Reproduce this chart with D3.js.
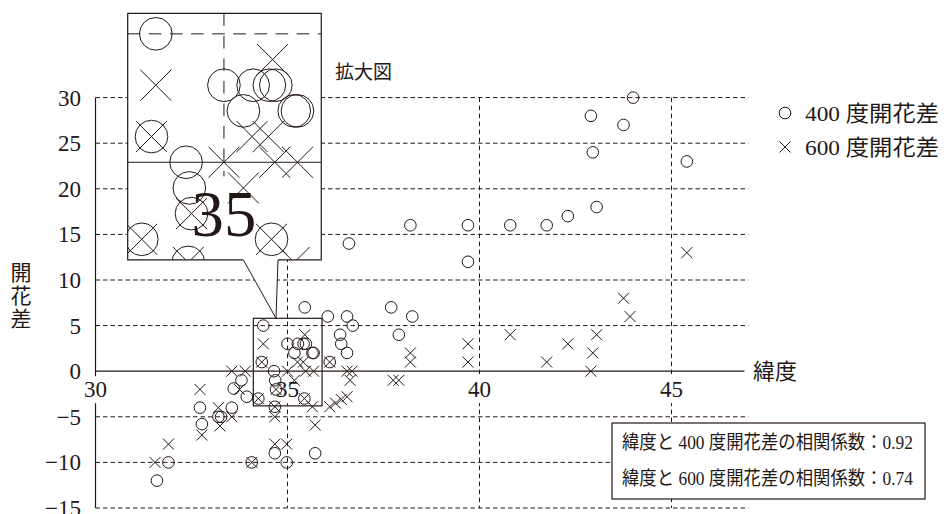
<!DOCTYPE html>
<html>
<head>
<meta charset="utf-8">
<script src="https://cdn.jsdelivr.net/npm/d3@7"></script>
<style>
  body { margin: 0; background: #fff; }
  text { font-family: "Liberation Serif", "Noto Sans CJK JP", serif; fill: #231815; }
</style>
</head>
<body>
<div id="graph"></div>
<script>
// 400 degree-day bloom difference (circles): latitude, difference
let lat400 = [44.0, 42.9, 43.75, 42.95, 45.4, 43.05, 42.3, 41.75, 40.8, 39.7, 38.2, 39.7, 36.6,
  37.7, 38.25, 37.9, 35.45, 36.05, 36.55, 36.7, 36.37, 36.4, 36.55, 36.1, 34.37, 34.33, 34.65,
  34.68, 34.7, 34.24, 35.44, 34.67, 35.0, 35.27, 35.42, 35.48, 35.18, 35.65, 35.68, 33.8, 33.6,
  33.94, 32.72, 32.77, 33.2, 33.27, 33.55, 31.9, 31.6, 34.07, 34.98, 34.67, 35.72];
let diff400 = [30, 28, 27, 24, 23, 18, 17, 16, 16, 16, 16, 12, 14,
  7, 6, 4, 7, 6, 6, 5, 4, 3, 2, 1, 5, 1, 0,
  -1, -2, -3, -3, -3.9, 3, 3, 3, 3, 2, 2, 2, -1, -1.9,
  -2.8, -4, -5.8, -5, -5, -4, -10, -12, -10, -10, -9, -9];

// 600 degree-day bloom difference (crosses)
let lat600 = [45.4, 43.75, 43.92, 40.8, 39.7, 39.7, 38.2, 38.2, 41.75, 42.3, 42.95, 43.05, 42.9,
  37.75, 37.9, 36.55, 36.68, 36.63, 36.1, 36.25, 36.4, 36.55, 36.1, 35.45, 35.26, 35.41, 35.0,
  35.47, 35.68, 35.18, 34.37, 34.33, 34.7, 34.24, 35.44, 34.67, 35.65, 34.67, 35.72, 34.67, 34.98,
  34.07, 33.55, 33.9, 33.75, 32.72, 33.2, 33.24, 33.55, 32.77, 31.9, 31.55];
let diff600 = [13, 8, 6, 4, 3, 1, 2, 1, 1, 3, 2, 4, 0,
  -1, -1, 0, 0, -1, -3.9, -3.5, -3.1, -2.8, 1, 4, 1, 1, 0,
  0, 0, -1, 3, 1, -2, -3, -3, -3.9, -3.9, -5, -5.9, -8, -8,
  -10, 0, 0, -2, -2, -4, -6, -5, -7, -8, -10];

let xTicks = [30, 35, 40, 45];
let yTicks = [30, 25, 20, 15, 10, 5, 0, -5, -10, -15];
let legendLabels = ["400 度開花差", "600 度開花差"];
let corrLabels = ["緯度と 400 度開花差の相関係数：0.92", "緯度と 600 度開花差の相関係数：0.74"];

let ink = "#231815";
let width = 944, height = 514;

let svg = d3.select("#graph").append("svg")
  .attr("width", width).attr("height", height)
  .style("display", "block");

// scales for main plot
let x = d3.scaleLinear().domain([30, 47]).range([95.5, 748.3]);
let y = d3.scaleLinear().domain([-15, 30]).range([508, 97.6]);
let labelDy = 18; // x tick labels sit just under the zero line

// dashed grid
svg.append("g").selectAll("line").data(yTicks.filter(d => d !== 0)).join("line")
  .attr("x1", x(30)).attr("x2", x(47))
  .attr("y1", d => y(d)).attr("y2", d => y(d))
  .attr("stroke", ink).attr("stroke-width", 1).attr("stroke-dasharray", "4.5,3");
svg.append("g").selectAll("line").data(xTicks.filter(d => d !== 30)).join("line")
  .attr("x1", d => x(d)).attr("x2", d => x(d))
  .attr("y1", y(30)).attr("y2", y(-15))
  .attr("stroke", ink).attr("stroke-width", 1).attr("stroke-dasharray", "4.5,3.5");

// axes
svg.append("line").attr("x1", x(30)).attr("x2", x(46.9)).attr("y1", y(0)).attr("y2", y(0))
  .attr("stroke", ink).attr("stroke-width", 1.2);
svg.append("line").attr("x1", x(30)).attr("x2", x(30)).attr("y1", y(30)).attr("y2", y(-15))
  .attr("stroke", ink).attr("stroke-width", 1.2);

// x tick labels with white backing
function xLabels(g, sx, sy, k, ticks) {
  let lab = g.append("g").selectAll("g").data(ticks).join("g")
    .attr("transform", d => `translate(${sx(d)},${sy(0) + labelDy * k})`);
  lab.append("rect").attr("x", -14 * k).attr("y", -13 * k).attr("width", 28 * k).attr("height", 27 * k)
    .attr("fill", "#fff");
  lab.append("text").attr("text-anchor", "middle").attr("dy", "0.35em")
    .style("font-size", 23 * k + "px").text(d => d);
}
xLabels(svg, x, y, 1, xTicks);

// y tick labels
svg.append("g").selectAll("text").data(yTicks).join("text")
  .attr("x", 81).attr("y", d => y(d)).attr("dy", "0.35em")
  .attr("text-anchor", "end").style("font-size", "23px")
  .text(d => (d < 0 ? "\u2212" : "") + Math.abs(d));

// markers
function drawMarks(g, sx, sy, k) {
  let r = 5.8 * k, c = 5.5 * k;
  g.append("g").selectAll("circle").data(d3.range(lat400.length)).join("circle")
    .attr("cx", i => sx(lat400[i])).attr("cy", i => sy(diff400[i])).attr("r", r)
    .attr("fill", "none").attr("stroke", ink).attr("stroke-width", 1);
  g.append("g").selectAll("path").data(d3.range(lat600.length)).join("path")
    .attr("d", i => {
      let px = sx(lat600[i]), py = sy(diff600[i]);
      return `M${px - c},${py - c}L${px + c},${py + c}M${px - c},${py + c}L${px + c},${py - c}`;
    })
    .attr("fill", "none").attr("stroke", ink).attr("stroke-width", 1);
}
drawMarks(svg, x, y, 1);

// region that gets magnified
let zx = [34.11, 35.9], zy = [-3.8, 5.8];
svg.append("rect")
  .attr("x", x(zx[0])).attr("y", y(zy[1]))
  .attr("width", x(zx[1]) - x(zx[0])).attr("height", y(zy[0]) - y(zy[1]))
  .attr("fill", "none").attr("stroke", ink).attr("stroke-width", 1.2);

// correlation box
let cb = svg.append("g");
cb.append("rect").attr("x", 612).attr("y", 423).attr("width", 313).attr("height", 76)
  .attr("fill", "#fff").attr("stroke", ink).attr("stroke-width", 1.2);
cb.selectAll("text").data(corrLabels).join("text")
  .attr("x", 622).attr("y", (d, i) => 442 + i * 36).attr("dy", "0.35em")
  .attr("textLength", 291).attr("lengthAdjust", "spacingAndGlyphs")
  .style("font-size", "19px").text(d => d);

// inset (magnified view)
let k = 2.816, ix0 = 127.7, iy0 = 13.3;
let iw = (x(zx[1]) - x(zx[0])) * k, ih = (y(zy[0]) - y(zy[1])) * k;
let xi = d3.scaleLinear().domain(zx).range([ix0, ix0 + iw]);
let yi = d3.scaleLinear().domain(zy).range([iy0 + ih, iy0]);

// callout pointer
let tipX = 276, tipY = y(zy[1]);
svg.append("path")
  .attr("d", `M243.3,${iy0 + ih}L${tipX},${tipY}L278,${iy0 + ih}Z`)
  .attr("fill", "#fff").attr("stroke", "none");
svg.append("path")
  .attr("d", `M243.3,${iy0 + ih}L${tipX},${tipY}L278,${iy0 + ih}`)
  .attr("fill", "none").attr("stroke", ink).attr("stroke-width", 1);

svg.append("clipPath").attr("id", "insetClip").append("rect")
  .attr("x", ix0).attr("y", iy0).attr("width", iw).attr("height", ih);
svg.append("rect").attr("x", ix0).attr("y", iy0).attr("width", iw).attr("height", ih)
  .attr("fill", "#fff");
let inset = svg.append("g").attr("clip-path", "url(#insetClip)");
inset.append("line").attr("x1", ix0).attr("x2", ix0 + iw).attr("y1", yi(5)).attr("y2", yi(5))
  .attr("stroke", ink).attr("stroke-width", 1).attr("stroke-dasharray", `${4.5 * k},${3 * k}`);
inset.append("line").attr("x1", xi(35)).attr("x2", xi(35)).attr("y1", iy0).attr("y2", iy0 + ih)
  .attr("stroke", ink).attr("stroke-width", 1).attr("stroke-dasharray", `${4.5 * k},${3.5 * k}`);
inset.append("line").attr("x1", ix0).attr("x2", ix0 + iw).attr("y1", yi(0)).attr("y2", yi(0))
  .attr("stroke", ink).attr("stroke-width", 1.2);
xLabels(inset, xi, yi, k, xTicks.filter(d => d > zx[0] && d < zx[1]));
drawMarks(inset, xi, yi, k);
// inset frame with a gap where the pointer leaves
svg.append("path")
  .attr("d", `M243.3,${iy0 + ih}H${ix0}V${iy0}H${ix0 + iw}V${iy0 + ih}H278`)
  .attr("fill", "none").attr("stroke", ink).attr("stroke-width", 1.2);

svg.append("text").attr("x", 335).attr("y", 72).attr("dy", "0.35em")
  .style("font-size", "19px").text("拡大図");

// legend
let leg = svg.append("g").attr("transform", "translate(785,113)");
leg.append("circle").attr("r", 5.8).attr("fill", "none").attr("stroke", ink).attr("stroke-width", 1);
leg.append("path").attr("d", "M-5.5,28.5L5.5,39.5M-5.5,39.5L5.5,28.5")
  .attr("stroke", ink).attr("stroke-width", 1);
leg.selectAll("text").data(legendLabels).join("text")
  .attr("x", 20).attr("y", (d, i) => i * 34).attr("dy", "0.35em")
  .attr("textLength", 134).attr("lengthAdjust", "spacingAndGlyphs")
  .style("font-size", "22px").text(d => d);

// axis titles
svg.append("text").attr("x", 753).attr("y", y(0)).attr("dy", "0.35em")
  .style("font-size", "22px").text("緯度");
svg.append("g").selectAll("text").data(["開", "花", "差"]).join("text")
  .attr("x", 21).attr("y", (d, i) => 273 + i * 23).attr("dy", "0.35em")
  .attr("text-anchor", "middle").style("font-size", "21px").text(d => d);
</script>
</body>
</html>
